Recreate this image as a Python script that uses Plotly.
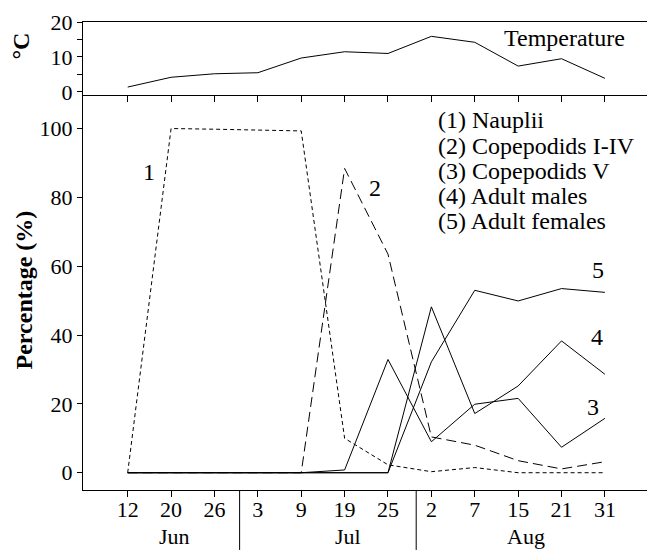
import plotly.graph_objects as go

# ---------------- data ----------------
dates = ['12', '20', '26', '3', '9', '19', '25', '2', '7', '15', '21', '31']
months = ['Jun', 'Jul', 'Aug']
month_centers = [1.07, 5.07, 9.17]
month_separators = [2.58, 6.65]

temperature = [1.4, 4.2, 5.2, 5.5, 9.7, 11.5, 11.0, 15.9, 14.2, 7.4, 9.5, 3.9]
nauplii = [0, 100, 99.8, 99.6, 99.3, 10.0, 2.3, 0.3, 1.5, 0, 0, 0]
copepodids_1_4 = [0, 0, 0, 0, 0, 88.4, 63.5, 10.4, 8.0, 3.5, 1.1, 3.2]
copepodids_5 = [0, 0, 0, 0, 0, 0.8, 32.9, 9.0, 19.9, 21.6, 7.4, 15.8]
adult_males = [0, 0, 0, 0, 0, 0, 0, 48.2, 17.2, 25.2, 38.3, 28.6]
adult_females = [0, 0, 0, 0, 0, 0, 0, 32.2, 53.0, 49.9, 53.5, 52.4]

legend_lines = ['(1) Nauplii', '(2) Copepodids I-IV', '(3) Copepodids V',
                '(4) Adult males', '(5) Adult females']
series_labels = ['1', '2', '3', '4', '5']
series_label_pos = [(0.48, 87.4), (5.70, 82.6), (10.73, 19.2), (10.81, 39.5), (10.85, 58.9)]

# ---------------- figure ----------------
FONT = 'Liberation Serif'
xs = list(range(len(dates)))
fig = go.Figure()

fig.add_trace(go.Scatter(x=xs, y=temperature, mode='lines', xaxis='x', yaxis='y',
                         line=dict(color='black', width=1), showlegend=False))

styles = [
    (nauplii, '4px,3px'),
    (copepodids_1_4, '10px,5px'),
    (copepodids_5, 'solid'),
    (adult_males, 'solid'),
    (adult_females, 'solid'),
]
for vals, dash in styles:
    fig.add_trace(go.Scatter(x=xs, y=vals, mode='lines', xaxis='x2', yaxis='y2',
                             line=dict(color='black', width=1, dash=dash),
                             showlegend=False))

xrange = [-1.03, 11.97]
top_h = 468.3
split = (490 - 94.3) / top_h

axis_common = dict(showline=True, linecolor='black', linewidth=1, showgrid=False,
                   zeroline=False, ticks='outside', tickcolor='black', tickwidth=1,
                   tickfont=dict(family=FONT, size=22, color='black'))

fig.update_layout(
    width=647, height=550,
    margin=dict(l=82.7, r=0, t=21.7, b=60),
    paper_bgcolor='white', plot_bgcolor='white',
    font=dict(family=FONT, color='black'),
    xaxis=dict(domain=[0, 1], anchor='y', range=xrange, tickvals=xs,
               showticklabels=False, ticklen=6, mirror=True, **axis_common),
    yaxis=dict(domain=[split, 1], anchor='x', range=[-0.74, 20], tickvals=[0, 10, 20],
               ticklen=5, minor=dict(tickvals=[5, 15], ticks='outside', ticklen=5,
                                     tickcolor='black', showgrid=False),
               **axis_common),
    xaxis2=dict(domain=[0, 1], anchor='y2', range=xrange, tickvals=xs, ticktext=dates,
                ticklen=6, ticklabelstandoff=-6, **axis_common),
    yaxis2=dict(domain=[0, split], anchor='x2', range=[-5.02, 109.87],
                tickvals=[0, 20, 40, 60, 80, 100], ticklen=5, **axis_common),
)

ann = []
# Temperature label
ann.append(dict(x=10.06, y=15.5, xref='x', yref='y', text='Temperature', showarrow=False,
                xanchor='center', yanchor='middle',
                font=dict(family=FONT, size=24, color='black')))
# Legend text
for i, t in enumerate(legend_lines):
    ann.append(dict(x=7.11, y=102.4 - 7.35 * i, xref='x2', yref='y2', text=t,
                    showarrow=False, xanchor='left', yanchor='middle',
                    font=dict(family=FONT, size=24, color='black')))
# Series number labels
for lab, (lx, ly) in zip(series_labels, series_label_pos):
    ann.append(dict(x=lx, y=ly, xref='x2', yref='y2', text=lab, showarrow=False,
                    xanchor='center', yanchor='middle',
                    font=dict(family=FONT, size=24, color='black')))
# Month labels
for m, c in zip(months, month_centers):
    ann.append(dict(x=c, y=(490 - 536.7) / top_h, xref='x2', yref='paper', text=m,
                    showarrow=False, xanchor='center', yanchor='middle',
                    font=dict(family=FONT, size=22, color='black')))
# Axis titles
ann.append(dict(x=(21 - 82.7) / 564.3, y=(490 - 46) / top_h, xref='paper', yref='paper',
                text='<b>°C</b>', textangle=-90, showarrow=False,
                xanchor='center', yanchor='middle',
                font=dict(family=FONT, size=24, color='black')))
ann.append(dict(x=(24 - 82.7) / 564.3, y=(490 - 290) / top_h, xref='paper', yref='paper',
                text='<b>Percentage (%)</b>', textangle=-90, showarrow=False,
                xanchor='center', yanchor='middle',
                font=dict(family=FONT, size=24, color='black')))
fig.update_layout(annotations=ann)

shapes = []
for s in month_separators:
    shapes.append(dict(type='line', xref='x2', yref='paper', x0=s, x1=s,
                       y0=0, y1=-60 / top_h, line=dict(color='black', width=1)))
fig.update_layout(shapes=shapes)

fig.write_html('out.html')
